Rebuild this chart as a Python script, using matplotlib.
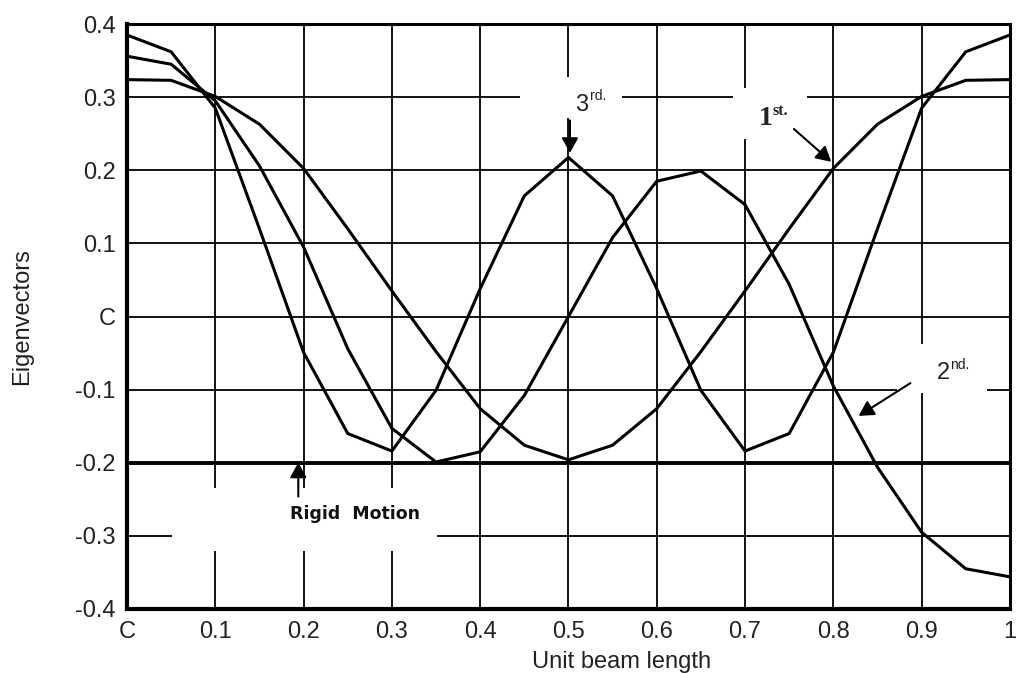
import matplotlib
matplotlib.use("Agg")
import matplotlib.pyplot as plt
from matplotlib.patches import Rectangle

# ---- data ----
x_pos = [0.0, 0.05, 0.1, 0.15, 0.2, 0.25, 0.3, 0.35, 0.4, 0.45, 0.5,
         0.55, 0.6, 0.65, 0.7, 0.75, 0.8, 0.85, 0.9, 0.95, 1.0]
mode1 = [0.324, 0.323, 0.301, 0.263, 0.2025, 0.12, 0.035, -0.048, -0.126, -0.176, -0.196,
         -0.176, -0.126, -0.048, 0.035, 0.12, 0.2025, 0.263, 0.301, 0.323, 0.324]
mode2 = [0.356, 0.345, 0.295, 0.206, 0.095, -0.044, -0.153, -0.199, -0.185, -0.108, 0.0,
         0.108, 0.185, 0.199, 0.153, 0.044, -0.095, -0.206, -0.295, -0.345, -0.356]
mode3 = [0.385, 0.362, 0.285, 0.12, -0.049, -0.160, -0.184, -0.101, 0.038, 0.165, 0.2175,
         0.165, 0.038, -0.101, -0.184, -0.160, -0.049, 0.12, 0.285, 0.362, 0.385]
rigid_x = [0.0, 1.0]
rigid = [-0.2, -0.2]

x_ticks = [0.0, 0.1, 0.2, 0.3, 0.4, 0.5, 0.6, 0.7, 0.8, 0.9, 1.0]
x_labels = ["C", "0.1", "0.2", "0.3", "0.4", "0.5", "0.6", "0.7", "0.8", "0.9", "1"]
y_ticks = [-0.4, -0.3, -0.2, -0.1, 0.0, 0.1, 0.2, 0.3, 0.4]
y_labels = ["-0.4", "-0.3", "-0.2", "-0.1", "C", "0.1", "0.2", "0.3", "0.4"]

plt.rcParams['font.family'] = ['Liberation Sans', 'DejaVu Sans']

fig = plt.figure(figsize=(10.16, 6.73), dpi=100)
ax = fig.add_axes([0.125, 0.0951, 0.869, 0.8692])

ax.set_xlim(0, 1)
ax.set_ylim(-0.4, 0.4)
ax.set_xticks(x_ticks)
ax.set_xticklabels(x_labels)
ax.set_yticks(y_ticks)
ax.set_yticklabels(y_labels)
ax.tick_params(length=0, labelsize=17, labelcolor='#222222')
ax.tick_params(axis='x', pad=9)
ax.tick_params(axis='y', pad=8)

ax.set_axisbelow(True)
ax.grid(True, color='black', linewidth=1.3)

for side, lw in [('left', 3.0), ('bottom', 3.0), ('top', 2.2), ('right', 2.2)]:
    ax.spines[side].set_linewidth(lw)
    ax.spines[side].set_color('black')

lw = 2.2
ax.plot(x_pos, mode1, color='black', linewidth=lw, zorder=3)
ax.plot(x_pos, mode2, color='black', linewidth=lw, zorder=3)
ax.plot(x_pos, mode3, color='black', linewidth=lw, zorder=3)
ax.plot(rigid_x, rigid, color='black', linewidth=2.8, zorder=3)

# white boxes behind annotation texts (break the grid)
for (bx0, by0, bx1, by1) in [(0.445, 0.272, 0.561, 0.327),
                             (0.686, 0.243, 0.770, 0.313),
                             (0.872, -0.105, 0.974, -0.037),
                             (0.051, -0.321, 0.351, -0.235)]:
    ax.add_patch(Rectangle((bx0, by0), bx1 - bx0, by1 - by0, facecolor='white',
                           edgecolor='none', zorder=1.5))

arrow_kw = dict(arrowstyle='-|>,head_length=0.9,head_width=0.5', color='black', lw=1.5)

# 3rd
ax.text(0.507, 0.2805, "3", fontsize=17, color='#222222', zorder=4)
ax.text(0.524, 0.2956, "rd.", fontsize=10, color='#222222', zorder=4)
ax.annotate("", xy=(0.5017, 0.220), xytext=(0.5017, 0.272), arrowprops=arrow_kw, zorder=4)

# 1st
ax.text(0.715, 0.2615, "1", fontsize=20, fontweight='bold', family='Liberation Serif',
        color='#222222', zorder=4)
ax.text(0.7316, 0.276, "st.", fontsize=11.5, fontweight='bold', family='Liberation Serif',
        color='#222222', zorder=4)
ax.annotate("", xy=(0.800, 0.209), xytext=(0.753, 0.259), arrowprops=arrow_kw, zorder=4)

# 2nd
ax.text(0.917, -0.085, "2", fontsize=17, color='#222222', zorder=4)
ax.text(0.932, -0.0714, "nd.", fontsize=10, color='#222222', zorder=4)
ax.annotate("", xy=(0.826, -0.138), xytext=(0.890, -0.089), arrowprops=arrow_kw, zorder=4)

# Rigid motion
ax.text(0.1846, -0.2705, "Rigid  Motion", fontsize=12.5, fontweight='bold',
        family='DejaVu Sans', color='#111111', va='center', zorder=4)
ax.annotate("", xy=(0.194, -0.196), xytext=(0.194, -0.250), arrowprops=arrow_kw, zorder=4)

ax.set_xlabel("Unit beam length", fontsize=17, color='#222222')
ax.xaxis.set_label_coords(0.5606, -0.072)
ax.set_ylabel("Eigenvectors", fontsize=17, color='#222222')
ax.yaxis.set_label_coords(-0.106, 0.5)

fig.savefig("out.png", dpi=100)
